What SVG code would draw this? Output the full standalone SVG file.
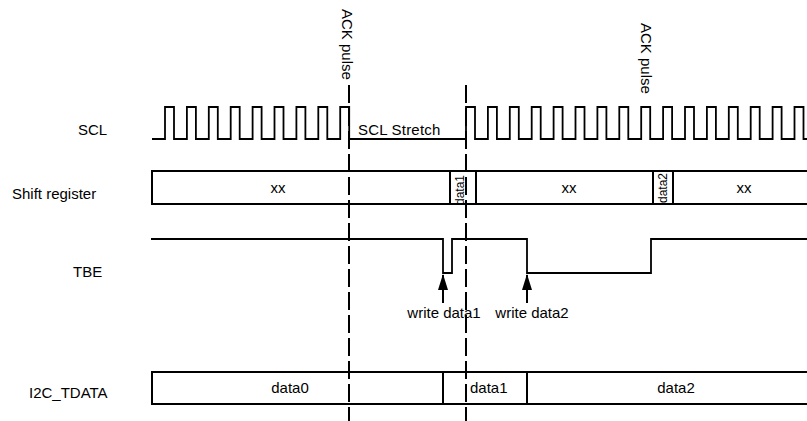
<svg xmlns="http://www.w3.org/2000/svg" width="807" height="421" viewBox="0 0 807 421">
<defs>
<style>
text{font-family:"Liberation Sans",Arial,sans-serif;font-size:15px;fill:#000}
.sm{font-size:12px}
.wave{fill:none;stroke:#000;stroke-width:1.8}
.box{fill:#fff;stroke:#000;stroke-width:2}
.dash{stroke:#000;stroke-width:2;stroke-dasharray:18 5;fill:none}
.arr{stroke:#000;stroke-width:2;fill:none;marker-end:url(#ah)}
</style>
<marker id="ah" viewBox="0 0 16 10" refX="15" refY="5" markerWidth="8" markerHeight="5" orient="auto" markerUnits="strokeWidth">
<path d="M0,0 L16,5 L0,10 Z" fill="#000"/>
</marker>
</defs>
<rect width="807" height="421" fill="#fff"/>
<g id="labels">
<text x="78" y="135">SCL</text>
<text x="12" y="199">Shift register</text>
<text x="73" y="277">TBE</text>
<text x="29" y="398">I2C_TDATA</text>
</g>
<g id="scl">
<path class="wave" d="M152,139 H165 V107 H174 V139 H186.9 V107 H195.9 V139 H208.8 V107 H217.8 V139 H230.7 V107 H239.7 V139 H252.6 V107 H261.6 V139 H274.5 V107 H283.5 V139 H296.4 V107 H305.4 V139 H318.3 V107 H327.3 V139 H340.2 V107 H349.2 V139 H466 V107 H475 V139 H487.9 V107 H496.9 V139 H509.8 V107 H518.8 V139 H531.7 V107 H540.7 V139 H553.6 V107 H562.6 V139 H575.5 V107 H584.5 V139 H597.4 V107 H606.4 V139 H619.3 V107 H628.3 V139 H641.2 V107 H650.2 V139 H663.1 V107 H672.1 V139 H685 V107 H694 V139 H706.9 V107 H715.9 V139 H728.8 V107 H737.8 V139 H750.7 V107 H759.7 V139 H772.6 V107 H781.6 V139 H794.5 V107 H803.5 V139 H807"/>
<text x="358" y="135" letter-spacing="0.2">SCL Stretch</text>
</g>
<g id="shift-register">
<path class="box" d="M807,171 H152 V204 H807"/>
<line x1="450" y1="171" x2="450" y2="204" stroke="#000" stroke-width="2"/>
<line x1="476" y1="171" x2="476" y2="204" stroke="#000" stroke-width="2"/>
<line x1="653" y1="171" x2="653" y2="204" stroke="#000" stroke-width="2"/>
<line x1="673" y1="171" x2="673" y2="204" stroke="#000" stroke-width="2"/>
<text x="278" y="193" text-anchor="middle">xx</text>
<text class="sm" transform="translate(464,190) rotate(-90)" text-anchor="middle">data1</text>
<text x="569" y="193" text-anchor="middle">xx</text>
<text class="sm" transform="translate(667,188) rotate(-90)" text-anchor="middle">data2</text>
<text x="744" y="193" text-anchor="middle">xx</text>
</g>
<g id="tbe">
<path class="wave" d="M151,239 H443 V273 H452 V239 H527 V273 H651 V239 H807"/>
</g>
<g id="i2c-tdata">
<path class="box" d="M807,372 H152 V404 H807"/>
<line x1="443" y1="372" x2="443" y2="404" stroke="#000" stroke-width="2"/>
<line x1="527" y1="372" x2="527" y2="404" stroke="#000" stroke-width="2"/>
<text x="290" y="393" text-anchor="middle">data0</text>
<text x="470" y="393">data1</text>
<text x="676" y="393" text-anchor="middle">data2</text>
</g>
<g id="connectors">
<line class="dash" x1="349" y1="85" x2="349" y2="421"/>
<line class="dash" x1="466" y1="85" x2="466" y2="421"/>
<line class="arr" x1="443" y1="303" x2="443" y2="275"/>
<line class="arr" x1="527" y1="303" x2="527" y2="275"/>
</g>
<g id="annotations">
<text transform="translate(342,9) rotate(90)">ACK pulse</text>
<text transform="translate(641,23) rotate(90)">ACK pulse</text>
<text x="444" y="318" text-anchor="middle">write data1</text>
<text x="532" y="318" text-anchor="middle">write data2</text>
</g>
</svg>
